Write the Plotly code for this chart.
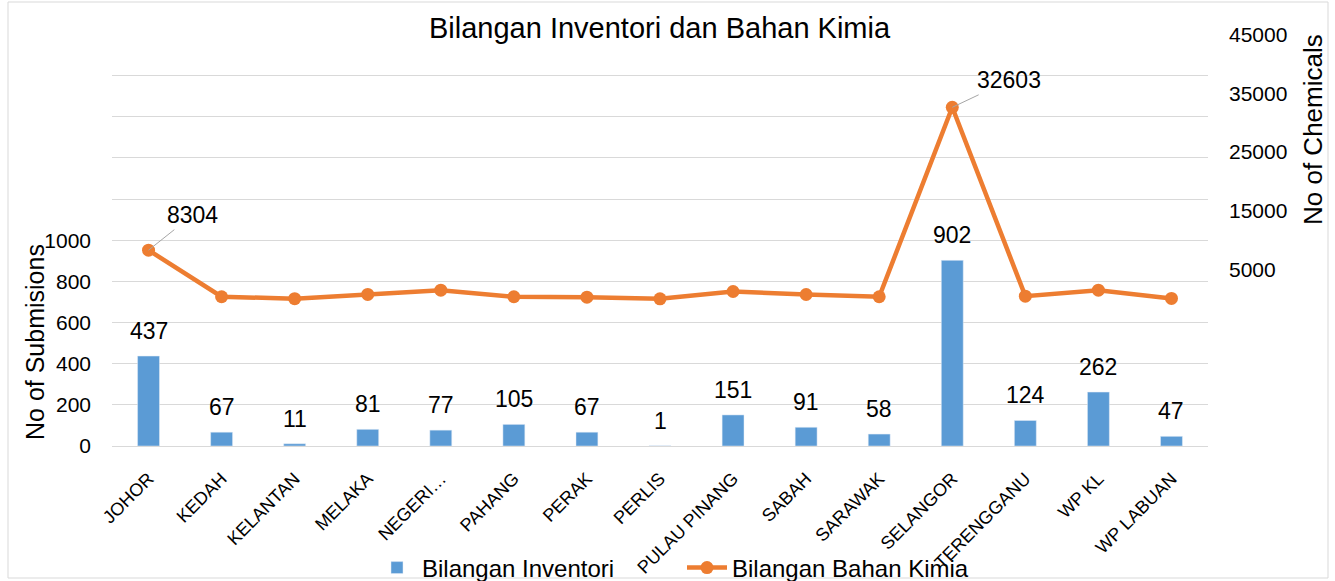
import plotly.graph_objects as go

categories = ["JOHOR", "KEDAH", "KELANTAN", "MELAKA", "NEGERI SEMBILAN", "PAHANG", "PERAK",
              "PERLIS", "PULAU PINANG", "SABAH", "SARAWAK", "SELANGOR", "TERENGGANU",
              "WP KL", "WP LABUAN"]
category_labels = ["JOHOR", "KEDAH", "KELANTAN", "MELAKA", "NEGERI…", "PAHANG", "PERAK",
                   "PERLIS", "PULAU PINANG", "SABAH", "SARAWAK", "SELANGOR", "TERENGGANU",
                   "WP KL", "WP LABUAN"]
inventori = [437, 67, 11, 81, 77, 105, 67, 1, 151, 91, 58, 902, 124, 262, 47]
bahan_kimia = [8304, 380, 60, 780, 1500, 380, 310, 30, 1280, 770, 380, 32603, 480, 1500, 90]

left_ticks = [0, 200, 400, 600, 800, 1000, 1200, 1400, 1600, 1800, 2000]
left_tick_text = ["0", "200", "400", "600", "800", "1000", "", "", "", "", ""]
right_ticks = [5000, 15000, 25000, 35000, 45000]
right_tick_text = ["5000", "15000", "25000", "35000", "45000"]

BLUE = "#5B9BD5"
ORANGE = "#ED7D31"
GRID = "#D9D9D9"
FONT = "Liberation Sans, Arial, sans-serif"

ML, MR, MT, MB = 112, 127, 34, 135
PW = 1335 - ML - MR
PH = 581 - MT - MB

fig = go.Figure()
fig.add_trace(go.Bar(x=categories, y=inventori, name="Bilangan Inventori",
                     marker_color=BLUE, width=0.3, yaxis="y"))
fig.add_trace(go.Scatter(x=categories, y=bahan_kimia, name="Bilangan Bahan Kimia",
                         mode="lines+markers", yaxis="y2",
                         line=dict(color=ORANGE, width=4.5),
                         marker=dict(color=ORANGE, size=13)))

annotations = []
for c, v in zip(categories, inventori):
    annotations.append(dict(x=c, y=v, xref="x", yref="y", text=str(v), showarrow=False,
                            yanchor="bottom", yshift=10, font=dict(size=23, color="#000000")))

# labelled chemical points
annotations.append(dict(x=categories[0], y=bahan_kimia[0], xref="x", yref="y2",
                        text=str(bahan_kimia[0]), showarrow=True, arrowhead=0,
                        arrowwidth=1, arrowcolor="#A6A6A6", ax=44, ay=-35,
                        font=dict(size=23, color="#000000")))
annotations.append(dict(x=categories[11], y=bahan_kimia[11], xref="x", yref="y2",
                        text=str(bahan_kimia[11]), showarrow=True, arrowhead=0,
                        arrowwidth=1, arrowcolor="#A6A6A6", ax=57, ay=-27,
                        font=dict(size=23, color="#000000")))

# title
annotations.append(dict(x=(660 - ML) / PW, y=1, xref="paper", yref="paper", xanchor="center",
                        yanchor="middle", yshift=6,
                        text="Bilangan Inventori dan Bahan Kimia", showarrow=False,
                        bgcolor="white", font=dict(size=29, color="#000000")))
# axis titles
annotations.append(dict(x=(35 - ML) / PW, y=(MT + PH - 342) / PH, xref="paper", yref="paper",
                        textangle=-90, xanchor="center", yanchor="middle",
                        text="No of Submisions", showarrow=False,
                        font=dict(size=25, color="#000000")))
annotations.append(dict(x=(1313 - ML) / PW, y=(MT + PH - 130) / PH, xref="paper", yref="paper",
                        textangle=-90, xanchor="center", yanchor="middle",
                        text="No of Chemicals", showarrow=False,
                        font=dict(size=26, color="#000000")))

fig.update_layout(
    width=1335, height=581,
    margin=dict(l=ML, r=MR, t=MT, b=MB, autoexpand=False),
    paper_bgcolor="white", plot_bgcolor="white",
    font=dict(family=FONT, color="#000000"),
    showlegend=True,
    legend=dict(orientation="h", x=(372 - ML) / PW, xanchor="left",
                y=(MT + PH - 568) / PH, yanchor="middle",
                bgcolor="rgba(0,0,0,0)", entrywidth=255, entrywidthmode="pixels",
                font=dict(size=24), itemwidth=40, traceorder="normal"),
    xaxis=dict(tickmode="array", tickvals=categories, ticktext=category_labels,
               range=[-0.5, len(categories) - 0.5],
               tickangle=-45, tickfont=dict(size=18), showgrid=False, automargin=False,
               showline=True, linecolor=GRID, linewidth=1, ticks="", ticklabelstandoff=14),
    yaxis=dict(range=[0, 2002], tickmode="array", tickvals=left_ticks, ticktext=left_tick_text,
               showgrid=True, gridcolor=GRID, gridwidth=1, zeroline=False, automargin=False,
               tickfont=dict(size=21), ticklabelstandoff=20),
    yaxis2=dict(range=[-25000, 45070], overlaying="y", side="right", tickmode="array",
                tickvals=right_ticks, ticktext=right_tick_text, showgrid=False, zeroline=False,
                automargin=False, tickfont=dict(size=21), ticklabelstandoff=20),
    annotations=annotations,
    shapes=[dict(type="rect", xref="paper", yref="paper",
                 x0=(8 - ML) / PW, x1=(1328 - ML) / PW,
                 y0=(MT + PH - 578) / PH, y1=(MT + PH - 2) / PH,
                 line=dict(color=GRID, width=1), fillcolor="rgba(0,0,0,0)", layer="below")],
)

fig.write_html("out.html", config={"displayModeBar": False},
               post_script="document.body.style.margin='0';document.body.style.padding='0';")
